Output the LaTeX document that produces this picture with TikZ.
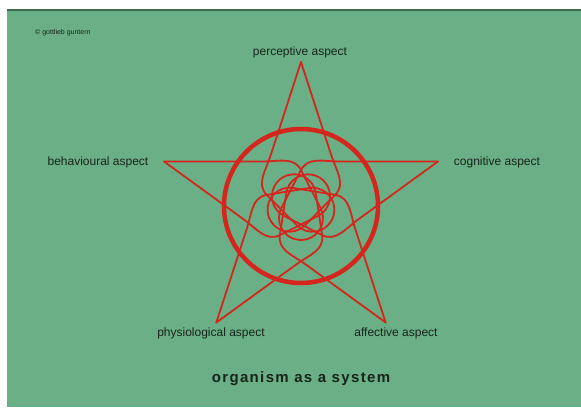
\documentclass[tikz,border=0pt]{standalone}
\usepackage{fontspec}
\setmainfont{Liberation Sans}
\definecolor{bggreen}{RGB}{107,175,134}
\definecolor{edgegreen}{RGB}{60,110,75}
\definecolor{starred}{RGB}{212,38,28}
\definecolor{inkdark}{RGB}{22,36,28}
\begin{document}
\begin{tikzpicture}[x=1pt,y=1pt,
  label/.style={text=inkdark,font=\fontsize{12}{14}\selectfont,inner sep=0pt},
  strand/.style={draw=starred,line width=1.8pt,line join=round,line cap=round},
  ring/.style={draw=starred,line width=4.5pt}]
\useasboundingbox (-301,-201) rectangle (280,206);
\fill[white] (-301,-201) rectangle (280,206);
\fill[bggreen] (-294,-201) rectangle (280,196);
\draw[edgegreen,line width=1.2pt] (-294,196) -- (280,196);
% circle
\draw[ring] (0,0) circle[radius=77];
% five looped edges of the pentagram
\foreach \k in {0,...,4}{
  \begin{scope}[rotate=72*\k]
    \draw[strand] (-137,44.5) -- (-38,44.5) to[out=0,in=117.3] (0,36)
      -- (19.5,-1.9) arc[start angle=27.3,end angle=-207.3,radius=22]
      -- (0,36) to[out=62.7,in=180] (38,44.5) -- (137,44.5);
  \end{scope}
}
% texts
\node[label,font=\fontsize{7}{8}\selectfont,anchor=west] (copy) at (-266,173) {© gottlieb guntern};
\node[label] (perc) at (-1,154) {perceptive aspect};
\node[label] (behav) at (-203,44) {behavioural aspect};
\node[label] (cogn) at (196,44) {cognitive aspect};
\node[label] (phys) at (-90,-127) {physiological aspect};
\node[label] (affe) at (95,-127) {affective aspect};
\node[label,font=\bfseries\fontsize{15}{17}\selectfont] (title) at (0,-173) {\addfontfeature{LetterSpace=9}organism as a system};
\end{tikzpicture}
\end{document}
